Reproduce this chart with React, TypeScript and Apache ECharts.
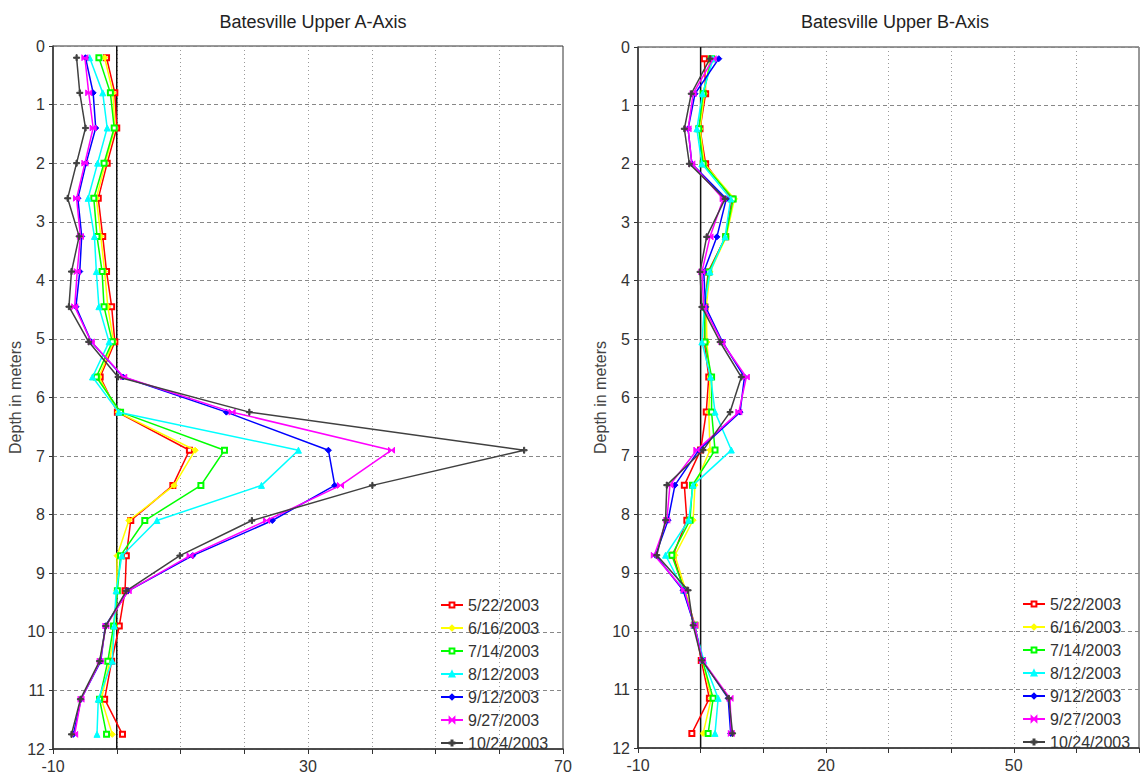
import React, { useEffect, useRef } from "react";
import * as echarts from "echarts";

const depths = [0.2, 0.8, 1.4, 2.0, 2.6, 3.25, 3.85, 4.45, 5.05, 5.65, 6.25, 6.9, 7.5, 8.1, 8.7, 9.3, 9.9, 10.5, 11.15, 11.75];

const seriesNames = ["5/22/2003", "6/16/2003", "7/14/2003", "8/12/2003", "9/12/2003", "9/27/2003", "10/24/2003"];
const seriesColors = ["#ff0000", "#ffff00", "#00ff00", "#00ffff", "#0000ff", "#ff00ff", "#404040"];

// A-axis values
const aMay22 = [-1.6, -0.3, 0.0, -1.5, -2.9, -2.2, -1.6, -0.8, -0.3, -2.6, 0.1, 11.4, 8.8, 2.2, 1.5, 1.3, 0.4, -0.8, -1.9, 0.9];
const aJun16 = [-1.9, -0.6, -0.3, -1.8, -3.2, -2.5, -1.9, -1.4, -0.5, -2.8, 0.2, 12.3, 9.0, 1.9, 0.05, 0.0, -0.3, -1.1, -2.4, -0.7];
const aJul14 = [-2.8, -1.0, -0.4, -2.0, -3.6, -3.1, -2.3, -2.0, -0.7, -3.2, 0.6, 16.9, 13.2, 4.4, 0.6, 0.1, -0.5, -1.4, -2.7, -1.6];
const aAug12 = [-4.25, -2.2, -1.5, -3.0, -4.5, -3.5, -3.2, -2.8, -1.2, -3.8, 0.3, 28.5, 22.7, 6.3, 0.8, -0.1, -0.4, -0.7, -2.9, -3.1];
const aSep12 = [-4.9, -3.7, -3.3, -4.8, -6.1, -5.5, -5.8, -6.4, -4.0, 1.0, 17.2, 33.2, 34.2, 24.4, 11.9, 1.8, -1.8, -2.5, -5.6, -6.8];
const aSep27 = [-5.0, -4.4, -3.7, -5.0, -6.3, -5.7, -6.2, -6.6, -4.0, 1.1, 18.1, 43.1, 35.1, 23.5, 11.5, 1.8, -1.7, -2.6, -5.6, -6.6];
const aOct24 = [-6.3, -5.8, -4.9, -6.3, -7.7, -5.9, -7.1, -7.5, -4.4, 0.2, 20.8, 63.9, 40.1, 21.2, 9.9, 1.5, -1.7, -2.7, -5.7, -7.1];

// B-axis values
const bMay22 = [0.6, 0.8, -0.1, 0.8, 5.0, 4.0, 1.2, 0.7, 0.6, 1.3, 0.9, 0.0, -2.6, -2.2, -4.4, -2.6, -0.9, 0.1, 1.4, -1.4];
const bJun16 = [1.5, 0.6, -0.1, 0.6, 5.4, 4.1, 1.5, 0.9, 1.0, 1.5, 1.3, 1.5, -0.9, -1.2, -4.1, -2.4, -1.0, 0.3, 1.7, 0.4];
const bJul14 = [1.75, 0.4, -0.3, 0.4, 5.2, 4.0, 1.3, 0.6, 0.7, 1.75, 1.75, 2.3, -1.3, -1.7, -4.6, -2.6, -1.0, 0.3, 2.0, 1.2];
const bAug12 = [2.0, 0.3, -0.6, 0.2, 4.8, 3.9, 1.5, 0.6, 0.2, 1.6, 2.3, 4.9, -1.2, -1.9, -5.6, -2.7, -1.0, 0.5, 2.8, 2.3];
const bSep12 = [2.9, -0.9, -2.0, -1.4, 4.1, 2.6, 0.5, 0.8, 3.5, 7.0, 6.3, -0.3, -4.1, -5.2, -7.2, -2.8, -1.0, 0.3, 4.4, 4.8];
const bSep27 = [2.0, -1.2, -2.0, -1.4, 3.6, 1.5, 0.2, 0.5, 3.4, 7.3, 6.1, -0.6, -4.9, -5.4, -7.4, -2.6, -1.0, 0.3, 4.7, 4.9];
const bOct24 = [1.5, -1.5, -2.6, -1.8, 3.9, 0.96, -0.1, 0.2, 3.1, 6.5, 4.7, 0.4, -5.4, -5.6, -7.0, -2.0, -1.2, 0.2, 4.5, 5.1];

const aSeries = [aMay22, aJun16, aJul14, aAug12, aSep12, aSep27, aOct24];
const bSeries = [bMay22, bJun16, bJul14, bAug12, bSep12, bSep27, bOct24];

const symbols = [
  "emptyRect",
  "diamond",
  "emptyRect",
  "triangle",
  "diamond",
  "path://M0,0L10,10L10,0L0,10Z",
  "path://M4,0H6V4H10V6H6V10H4V6H0V4H4Z",
];
const symbolSizes = [5, 6, 5, 6, 6, 6, 6];

const FONT = "'Liberation Sans', Arial, sans-serif";

export default function App() {
  const ref = useRef<HTMLDivElement>(null);
  useEffect(() => {
    if (!ref.current) return;
    const chart = echarts.init(ref.current, undefined, { renderer: "svg" });

    const makeX = (gridIndex: number, labelStep: number) => ({
      type: "value",
      gridIndex,
      min: -10,
      max: 70,
      interval: 10,
      position: "bottom",
      axisLine: { show: true, onZero: false, lineStyle: { color: "#333", width: 1.5 } },
      axisTick: { show: true, length: 5, lineStyle: { color: "#333" } },
      axisLabel: {
        fontFamily: FONT,
        fontSize: 16,
        color: "#333",
        margin: 9,
        formatter: (v: number) => ((v + 10) % labelStep === 0 ? String(v) : ""),
      },
      splitLine: { show: true, lineStyle: { color: "#999", type: [1, 3], width: 1 } },
    });
    const makeY = (gridIndex: number) => ({
      type: "value",
      gridIndex,
      inverse: true,
      min: 0,
      max: 12,
      interval: 1,
      name: "Depth in meters",
      nameLocation: "middle",
      nameGap: 28,
      nameTextStyle: { fontFamily: FONT, fontSize: 16, color: "#444" },
      axisLine: { show: true, onZero: false, lineStyle: { color: "#333", width: 1.5 } },
      axisTick: { show: true, length: 4, lineStyle: { color: "#333" } },
      axisLabel: { fontFamily: FONT, fontSize: 16, color: "#333", margin: 8 },
      splitLine: { show: true, lineStyle: { color: "#888", type: [4, 3], width: 1 } },
    });

    const series: any[] = [];
    [0, 1].forEach((g) => {
      series.push({
        type: "line",
        name: "zero" + g,
        xAxisIndex: g,
        yAxisIndex: g,
        data: [[0, 0], [0, 12]],
        symbol: "none",
        silent: true,
        z: 1,
        lineStyle: { color: "#111", width: 1.5 },
      });
      const src = g === 0 ? aSeries : bSeries;
      src.forEach((vals, i) => {
        series.push({
          type: "line",
          name: seriesNames[i],
          xAxisIndex: g,
          yAxisIndex: g,
          data: depths.map((d, k) => [vals[k], d]),
          symbol: symbols[i],
          symbolSize: symbolSizes[i],
          showAllSymbol: true,
          color: seriesColors[i],
          itemStyle: { color: seriesColors[i], borderColor: seriesColors[i], borderWidth: 1 },
          lineStyle: { color: seriesColors[i], width: 1.5 },
          z: 2 + i,
        });
      });
    });

    const legendBase = {
      orient: "vertical",
      data: seriesNames,
      itemWidth: 22,
      itemHeight: 6,
      itemGap: 7,
      textStyle: { fontFamily: FONT, fontSize: 16, color: "#333", lineHeight: 15 },
    };

    chart.setOption({
      animation: false,
      backgroundColor: "#ffffff",
      title: [
        {
          text: "Batesville Upper A-Axis",
          left: 308,
          top: 8,
          textAlign: "center",
          textStyle: { fontFamily: FONT, fontSize: 18, fontWeight: "normal", color: "#222" },
        },
        {
          text: "Batesville Upper B-Axis",
          left: 890,
          top: 8,
          textAlign: "center",
          textStyle: { fontFamily: FONT, fontSize: 18, fontWeight: "normal", color: "#222" },
        },
      ],
      grid: [
        { left: 53, top: 46, width: 510, height: 703, show: true, borderColor: "#333", borderWidth: 1, backgroundColor: "transparent" },
        { left: 638, top: 47, width: 504, height: 701, show: true, borderColor: "#333", borderWidth: 1, backgroundColor: "transparent" },
      ],
      xAxis: [makeX(0, 40), makeX(1, 30)],
      yAxis: [makeY(0), makeY(1)],
      legend: [
        { ...legendBase, left: 435, top: 592 },
        { ...legendBase, left: 1017, top: 591 },
      ],
      series,
    });
    return () => chart.dispose();
  }, []);
  return (
    <div
      ref={ref}
      style={{ position: "absolute", left: 0, top: 0, width: 1142, height: 778, background: "#fff" }}
    />
  );
}
